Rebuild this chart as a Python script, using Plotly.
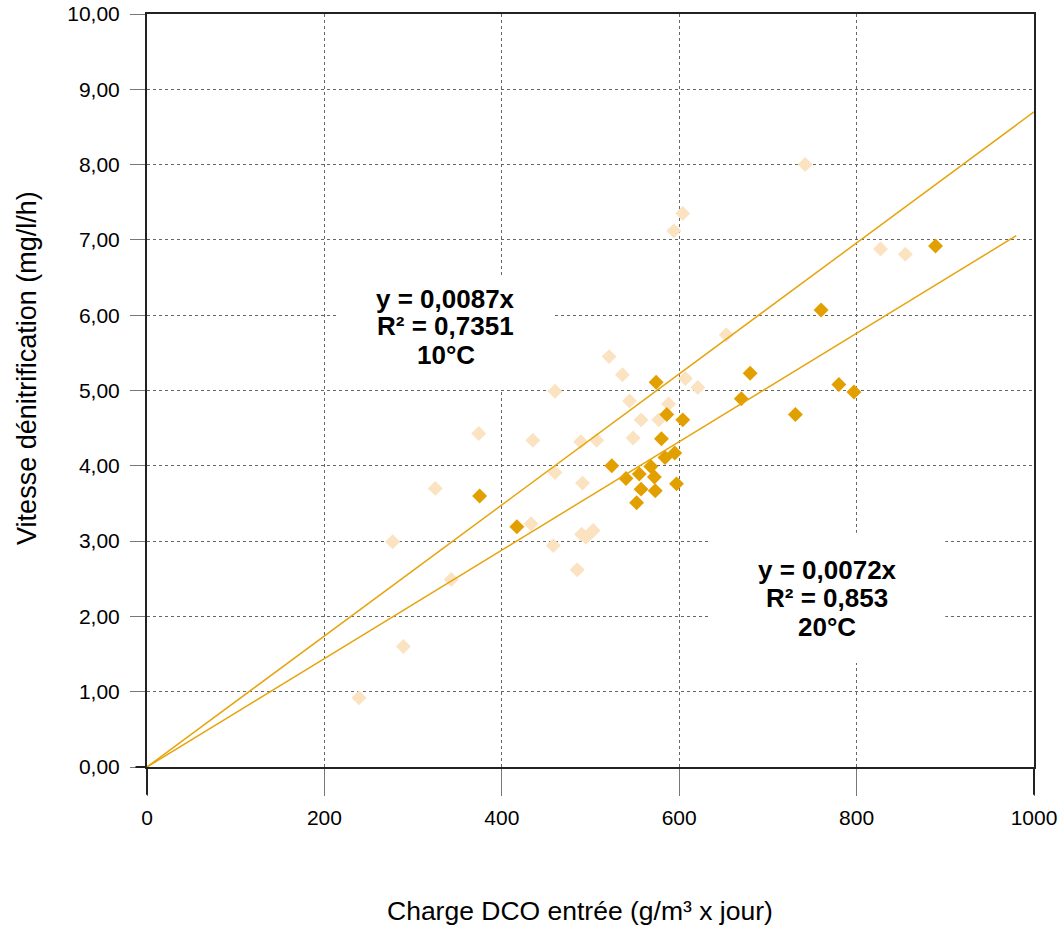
import plotly.graph_objects as go

# ---- data ----
x_10c = [239, 277, 289, 325, 343, 374, 433, 435, 460, 460, 458, 485, 489, 491, 490, 495, 503,
         507, 521, 536, 544, 548, 557, 577, 588, 594, 604, 607, 621, 653, 742, 827, 855]
y_10c = [0.92, 2.99, 1.60, 3.70, 2.49, 4.43, 3.23, 4.34, 4.99, 3.91, 2.94, 2.62, 4.32, 3.77, 3.09, 3.05, 3.14,
         4.34, 5.45, 5.21, 4.86, 4.37, 4.61, 4.61, 4.82, 7.12, 7.35, 5.16, 5.04, 5.74, 8.00, 6.88, 6.81]

x_20c = [375, 417, 524, 540, 555, 552, 557, 568, 572, 573, 574, 580, 584, 586, 595, 597, 604,
         670, 680, 731, 760, 780, 797, 889]
y_20c = [3.60, 3.19, 4.00, 3.83, 3.89, 3.51, 3.69, 3.99, 3.85, 3.67, 5.11, 4.36, 4.11, 4.68, 4.17, 3.76, 4.61,
         4.89, 5.23, 4.68, 6.07, 5.08, 4.98, 6.92]

slope_10c = 0.0087
slope_20c = 0.0072
trend_x_10c = [0, 1000]
trend_x_20c = [0, 980]

x_ticks = [0, 200, 400, 600, 800, 1000]
x_tick_labels = ["0", "200", "400", "600", "800", "1000"]
y_ticks = [0, 1, 2, 3, 4, 5, 6, 7, 8, 9, 10]
y_tick_labels = ["0,00", "1,00", "2,00", "3,00", "4,00", "5,00", "6,00", "7,00", "8,00", "9,00", "10,00"]

label_10c = ["y = 0,0087x", "R² = 0,7351", "10°C"]
label_20c = ["y = 0,0072x", "R² = 0,853", "20°C"]

# ---- styling ----
DARK = "#E2A000"
LIGHT = "#FBE3C2"
LINE = "#E6A40E"
AXIS = "#222"
FONT = "Liberation Sans, Arial, sans-serif"

fig = go.Figure()
fig.add_trace(go.Scatter(x=x_10c, y=y_10c, mode="markers",
                         marker=dict(symbol="diamond", size=11.5, color=LIGHT, line=dict(width=0)),
                         showlegend=False, hoverinfo="skip"))
fig.add_trace(go.Scatter(x=x_20c, y=y_20c, mode="markers",
                         marker=dict(symbol="diamond", size=11.5, color=DARK, line=dict(width=0)),
                         showlegend=False, hoverinfo="skip"))
fig.add_trace(go.Scatter(x=trend_x_10c, y=[slope_10c * v for v in trend_x_10c], mode="lines",
                         line=dict(color=LINE, width=1.5), showlegend=False, hoverinfo="skip"))
fig.add_trace(go.Scatter(x=trend_x_20c, y=[slope_20c * v for v in trend_x_20c], mode="lines",
                         line=dict(color=LINE, width=1.5), showlegend=False, hoverinfo="skip"))

# white label boxes hiding the grid
fig.add_shape(type="rect", x0=215, x1=458, y0=5.02, y1=6.51, layer="between",
              fillcolor="white", line=dict(width=0))
fig.add_shape(type="rect", x0=635, x1=900, y0=1.38, y1=3.11, layer="between",
              fillcolor="white", line=dict(width=0))

# axis line extensions (crossing ticks, as in the reference)
fig.add_shape(type="line", xref="paper", yref="paper", x0=-0.013, x1=0, y0=0, y1=0,
              line=dict(color=AXIS, width=2))
fig.add_shape(type="line", xref="paper", yref="paper", x0=0, x1=0, y0=-0.037, y1=0,
              line=dict(color=AXIS, width=2))
fig.add_shape(type="line", xref="paper", yref="paper", x0=1, x1=1, y0=-0.037, y1=0,
              line=dict(color=AXIS, width=2))

for txt, yy in zip(label_10c, [6.22, 5.86, 5.47]):
    fig.add_annotation(x=337, y=yy, text=f"<b>{txt}</b>", showarrow=False,
                       xanchor="center", yanchor="middle",
                       font=dict(family=FONT, size=26, color="black"))
for txt, yy in zip(label_20c, [2.62, 2.24, 1.86]):
    fig.add_annotation(x=767, y=yy, text=f"<b>{txt}</b>", showarrow=False,
                       xanchor="center", yanchor="middle",
                       font=dict(family=FONT, size=26, color="black"))

# axis titles
fig.add_annotation(xref="paper", yref="paper", x=0.488, y=-0.191,
                   xanchor="center", yanchor="middle",
                   text="Charge DCO entrée (g/m³ x jour)", showarrow=False,
                   font=dict(family=FONT, size=26.5, color="black"))
fig.add_annotation(xref="paper", yref="paper", x=-0.1353, y=0.53, textangle=-90,
                   xanchor="center", yanchor="middle",
                   text="Vitesse dénitrification (mg/l/h)", showarrow=False,
                   font=dict(family=FONT, size=27, color="black"))

fig.update_layout(
    width=1058, height=929,
    margin=dict(l=147, r=24, t=14, b=162, autoexpand=False),
    paper_bgcolor="white", plot_bgcolor="white",
    font=dict(family=FONT, color="black"),
    showlegend=False,
)
fig.update_xaxes(range=[0, 1000], tickvals=x_ticks, ticktext=x_tick_labels, automargin=False,
                 showgrid=True, gridcolor="#666", griddash="dot", gridwidth=1,
                 zeroline=False, showline=True, linecolor=AXIS, linewidth=2, mirror=True,
                 ticks="outside", ticklen=27, tickcolor="#777", tickwidth=1,
                 tickfont=dict(family=FONT, size=21, color="black"), ticklabelstandoff=4)
fig.update_yaxes(range=[0, 10], tickvals=y_ticks, ticktext=y_tick_labels, automargin=False,
                 showgrid=True, gridcolor="#666", griddash="dot", gridwidth=1,
                 zeroline=False, showline=True, linecolor=AXIS, linewidth=2, mirror=True,
                 ticks="outside", ticklen=15, tickcolor="#777", tickwidth=1,
                 tickfont=dict(family=FONT, size=21, color="black"), ticklabelstandoff=6)

fig.write_html("out.html", config={"displayModeBar": False},
               post_script="document.body.style.margin='0';document.body.style.overflow='hidden';")
